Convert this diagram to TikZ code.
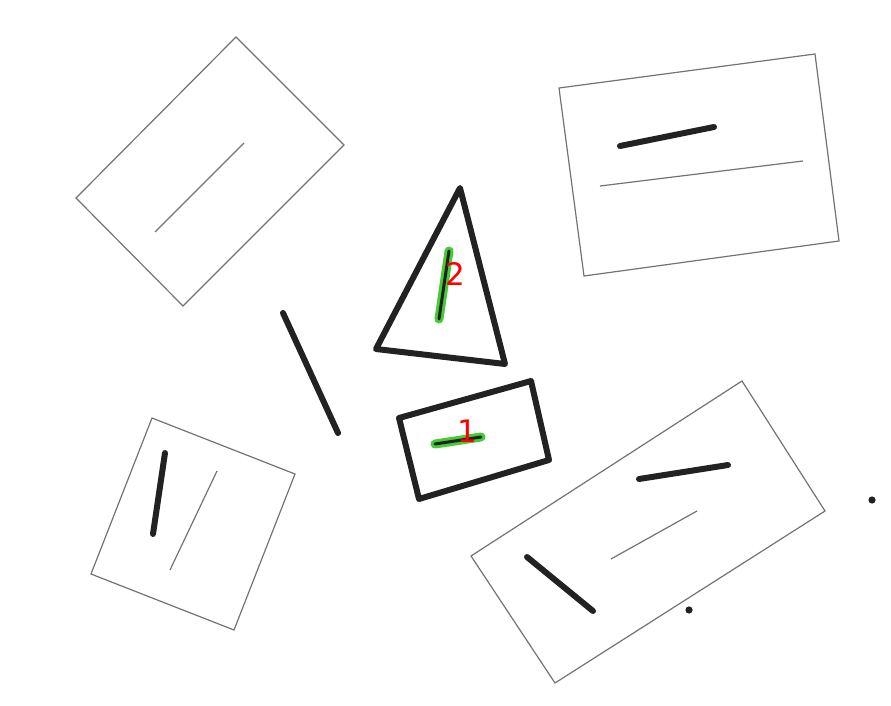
\documentclass[tikz,border=0pt]{standalone}
\usepackage{fontspec}
\newfontfamily\labelfont{DejaVu Sans}
\definecolor{ink}{HTML}{222222}
\definecolor{hl}{HTML}{44CC33}
\tikzset{
  thinbox/.style={draw=gray!90!black, line width=1.2pt, line join=miter},
  thinline/.style={draw=gray!90!black, line width=1.2pt},
  thickline/.style={draw=ink, line width=6pt, line cap=round},
  thickshape/.style={draw=ink, line width=6pt, line join=round},
  glow/.style={draw=hl, line width=9pt, line cap=round},
  core/.style={draw=ink, line width=3pt, line cap=round},
  lbl/.style={text=red, font=\labelfont\fontsize{31}{31}\selectfont, inner sep=0pt},
  dotmark/.style={fill=ink, draw=none}
}
\begin{document}
\begin{tikzpicture}[x=1pt,y=-1pt]
\useasboundingbox (0,0) rectangle (891,706);
% coordinates
\coordinate (a1) at (236,37); \coordinate (a2) at (344,145); \coordinate (a3) at (183,306); \coordinate (a4) at (76,198);
\coordinate (b1) at (559,88); \coordinate (b2) at (815,54); \coordinate (b3) at (839,241); \coordinate (b4) at (584,276);
\coordinate (c1) at (152,418); \coordinate (c2) at (295,474); \coordinate (c3) at (234,630); \coordinate (c4) at (91,574);
\coordinate (d1) at (471,556); \coordinate (d2) at (742,381); \coordinate (d3) at (825,511); \coordinate (d4) at (555,683);
\coordinate (t1) at (460,188); \coordinate (t2) at (505,364); \coordinate (t3) at (376,349);
\coordinate (r1) at (399,418); \coordinate (r2) at (531,381); \coordinate (r3) at (549,460); \coordinate (r4) at (419,499);
% thin boxes
\draw[thinbox] (a1) -- (a2) -- (a3) -- (a4) -- cycle;
\draw[thinbox] (b1) -- (b2) -- (b3) -- (b4) -- cycle;
\draw[thinbox] (c1) -- (c2) -- (c3) -- (c4) -- cycle;
\draw[thinbox] (d1) -- (d2) -- (d3) -- (d4) -- cycle;
% thin lines
\coordinate (l1a) at (155,232); \coordinate (l1b) at (244,143);
\draw[thinline] (l1a) -- (l1b);
\coordinate (l2a) at (600,186); \coordinate (l2b) at (803,161);
\draw[thinline] (l2a) -- (l2b);
\coordinate (l3a) at (217,471); \coordinate (l3b) at (170,570);
\draw[thinline] (l3a) -- (l3b);
\coordinate (l4a) at (611,559); \coordinate (l4b) at (697,511);
\draw[thinline] (l4a) -- (l4b);
% thick lines
\coordinate (k1a) at (620,146); \coordinate (k1b) at (714,127);
\draw[thickline] (k1a) -- (k1b);
\coordinate (k2a) at (283,313); \coordinate (k2b) at (338,433);
\draw[thickline] (k2a) -- (k2b);
\coordinate (k3a) at (165,453); \coordinate (k3b) at (153,534);
\draw[thickline] (k3a) -- (k3b);
\coordinate (k4a) at (639,479); \coordinate (k4b) at (728,465);
\draw[thickline] (k4a) -- (k4b);
\coordinate (k5a) at (527,557); \coordinate (k5b) at (593,611);
\draw[thickline] (k5a) -- (k5b);
% thick shapes
\draw[thickshape] (t1) -- (t2) -- (t3) -- cycle;
\draw[thickshape] (r1) -- (r2) -- (r3) -- (r4) -- cycle;
% highlighted lines
\coordinate (g1a) at (449,251); \coordinate (g1b) at (439,319);
\draw[glow] (g1a) -- (g1b);
\draw[core] (g1a) -- (g1b);
\coordinate (g2a) at (435,444); \coordinate (g2b) at (481,437);
\draw[glow] (g2a) -- (g2b);
\draw[core] (g2a) -- (g2b);
% labels
\node[lbl] (n2) at (455,274) {2};
\node[lbl] (n1) at (467,431) {1};
% dots
\fill[dotmark] (872,500) circle (3.6);
\fill[dotmark] (689,610) circle (3.6);
\end{tikzpicture}
\end{document}
